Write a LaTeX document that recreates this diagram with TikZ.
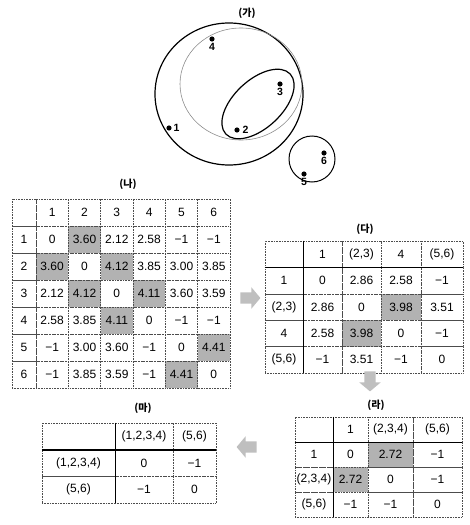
\documentclass[tikz,border=0pt]{standalone}
\usepackage{fontspec}
\setmainfont{Liberation Sans}
\newfontfamily\krfont{Noto Sans CJK KR}
\usepackage{tikz}
\usetikzlibrary{shapes.arrows,positioning}

\begin{document}
\begin{tikzpicture}[
    x=1pt, y=1pt,
    cell/.style={rectangle, draw=black!70, densely dotted, line width=0.6pt, inner sep=0pt, font=\fontsize{12}{12}\selectfont},
    shade/.style={fill=black!30},
    sepline/.style={black, line width=1.3pt},
    title/.style={font=\krfont\bfseries\fontsize{10}{11}\selectfont},
    dot/.style={circle, fill=black, inner sep=0pt, minimum size=5.2pt},
    ptlabel/.style={font=\bfseries\fontsize{10.5}{11}\selectfont, inner sep=0.5pt},
    ring/.style={black, line width=1.2pt},
    flow/.style={single arrow, fill=black!25, draw=none, minimum height=20pt, inner sep=5.5pt, single arrow head extend=5pt, single arrow tip angle=100}
]
\useasboundingbox (0,0) rectangle (469,-525);

% (ga): clusters of the six points
\node[title] (tga) at (247,-13) {(가)};
\draw[ring] (229,-94) ellipse [x radius=74, y radius=71];
\draw[black!45, line width=0.6pt] (241,-84) ellipse [x radius=61, y radius=56];
\draw[ring] (258,-104) ellipse [x radius=44, y radius=24, rotate=43];
\draw[ring, line width=1pt] (312,-159) circle [radius=23];

\node[dot] (p1) at (169,-128) {};
\node[dot] (p2) at (237,-130) {};
\node[dot] (p3) at (280,-84) {};
\node[dot] (p4) at (212,-39) {};
\node[dot] (p5) at (304,-174) {};
\node[dot] (p6) at (324,-153) {};
\node[ptlabel, right=1pt of p1] (l1) {1};
\node[ptlabel, right=2pt of p2] (l2) {2};
\node[ptlabel, below=1pt of p3] (l3) {3};
\node[ptlabel, below=1pt of p4] (l4) {4};
\node[ptlabel, below=1pt of p5] (l5) {5};
\node[ptlabel, below=1pt of p6] (l6) {6};

% (na): 6x6 table
\node[title] (tna) at (128,-184) {(나)};
\def\nacols{{12,36,68.33,100.67,133,165.33,197.67,230}}
\foreach \i/\j in {1/2,2/1,2/3,3/2,3/4,4/3,5/6,6/5}{
    \pgfmathsetmacro{\xl}{\nacols[\j]}
    \pgfmathsetmacro{\xr}{\nacols[\j+1]}
    \fill[shade] (\xl,{-199-\i*27}) rectangle (\xr,{-199-(\i+1)*27});
}
\foreach \row [count=\i from 0] in {{{},1,2,3,4,5,6},
    {1,0,3.60,2.12,2.58,−1,−1},
    {2,3.60,0,4.12,3.85,3.00,3.85},
    {3,2.12,4.12,0,4.11,3.60,3.59},
    {4,2.58,3.85,4.11,0,−1,−1},
    {5,−1,3.00,3.60,−1,0,4.41},
    {6,−1,3.85,3.59,−1,4.41,0}}{
    \foreach \v [count=\j from 0] in \row {
        \pgfmathsetmacro{\xl}{\nacols[\j]}
        \pgfmathsetmacro{\xr}{\nacols[\j+1]}
        \node[cell, minimum width={(\xr-\xl)*1pt}, minimum height=27pt] (na-\i-\j)
            at ({(\xl+\xr)/2},{-199-(\i+0.5)*27}) {\v};
    }
}

% (da): after merging 2 and 3
\node[title] (tda) at (365,-229) {(다)};
\def\dacols{{265,303,342,381,421,463}}
\foreach \i/\j in {2/3,3/2}{
    \pgfmathsetmacro{\xl}{\dacols[\j]}
    \pgfmathsetmacro{\xr}{\dacols[\j+1]}
    \fill[shade] (\xl,{-241-\i*26.4}) rectangle (\xr,{-241-(\i+1)*26.4});
}
\foreach \row [count=\i from 0] in {{{},1,(2,3),4,(5,6)},
    {1,0,2.86,2.58,−1},
    {(2,3),2.86,0,3.98,3.51},
    {4,2.58,3.98,0,−1},
    {(5,6),−1,3.51,−1,0}}{
    \foreach \v [count=\j from 0] in \row {
        \pgfmathsetmacro{\xl}{\dacols[\j]}
        \pgfmathsetmacro{\xr}{\dacols[\j+1]}
        \node[cell, minimum width={(\xr-\xl)*1pt}, minimum height=26.4pt] (da-\i-\j)
            at ({(\xl+\xr)/2},{-241-(\i+0.5)*26.4}) {\v};
    }
}
\draw[sepline] (da-0-0.south west) -- (da-0-4.south east);
\draw[sepline] (da-0-0.north east) -- (da-4-0.south east);

% (ra): after merging (2,3) and 4
\node[title] (tra) at (376,-405) {(라)};
\def\racols{{295,333,368,413,462}}
\foreach \i/\j in {1/2,2/1}{
    \pgfmathsetmacro{\xl}{\racols[\j]}
    \pgfmathsetmacro{\xr}{\racols[\j+1]}
    \fill[shade] (\xl,{-417-\i*25}) rectangle (\xr,{-417-(\i+1)*25});
}
\foreach \row [count=\i from 0] in {{{},1,(2,3,4),(5,6)},
    {1,0,2.72,−1},
    {(2,3,4),2.72,0,−1},
    {(5,6),−1,−1,0}}{
    \foreach \v [count=\j from 0] in \row {
        \pgfmathsetmacro{\xl}{\racols[\j]}
        \pgfmathsetmacro{\xr}{\racols[\j+1]}
        \node[cell, minimum width={(\xr-\xl)*1pt}, minimum height=25pt] (ra-\i-\j)
            at ({(\xl+\xr)/2},{-417-(\i+0.5)*25}) {\v};
    }
}
\draw[sepline] (ra-0-0.south west) -- (ra-0-3.south east);
\draw[sepline] (ra-0-0.north east) -- (ra-3-0.south east);

% (ma): final two clusters
\node[title] (tma) at (143,-408) {(마)};
\def\macols{{42,115,173,216}}
\foreach \row [count=\i from 0] in {{{},(1,2,3,4),(5,6)},
    {(1,2,3,4),0,−1},
    {(5,6),−1,0}}{
    \foreach \v [count=\j from 0] in \row {
        \pgfmathsetmacro{\xl}{\macols[\j]}
        \pgfmathsetmacro{\xr}{\macols[\j+1]}
        \node[cell, minimum width={(\xr-\xl)*1pt}, minimum height=26.7pt] (ma-\i-\j)
            at ({(\xl+\xr)/2},{-423-(\i+0.5)*26.7}) {\v};
    }
}
\draw[sepline] (ma-0-0.south west) -- (ma-0-2.south east);
\draw[sepline] (ma-0-0.north east) -- (ma-2-0.south east);

% step arrows
\node[flow] (stepa) at (248,-298) {};
\node[flow, shape border rotate=270] (stepb) at (370,-379) {};
\node[flow, shape border rotate=180] (stepc) at (249,-447) {};

\end{tikzpicture}
\end{document}
